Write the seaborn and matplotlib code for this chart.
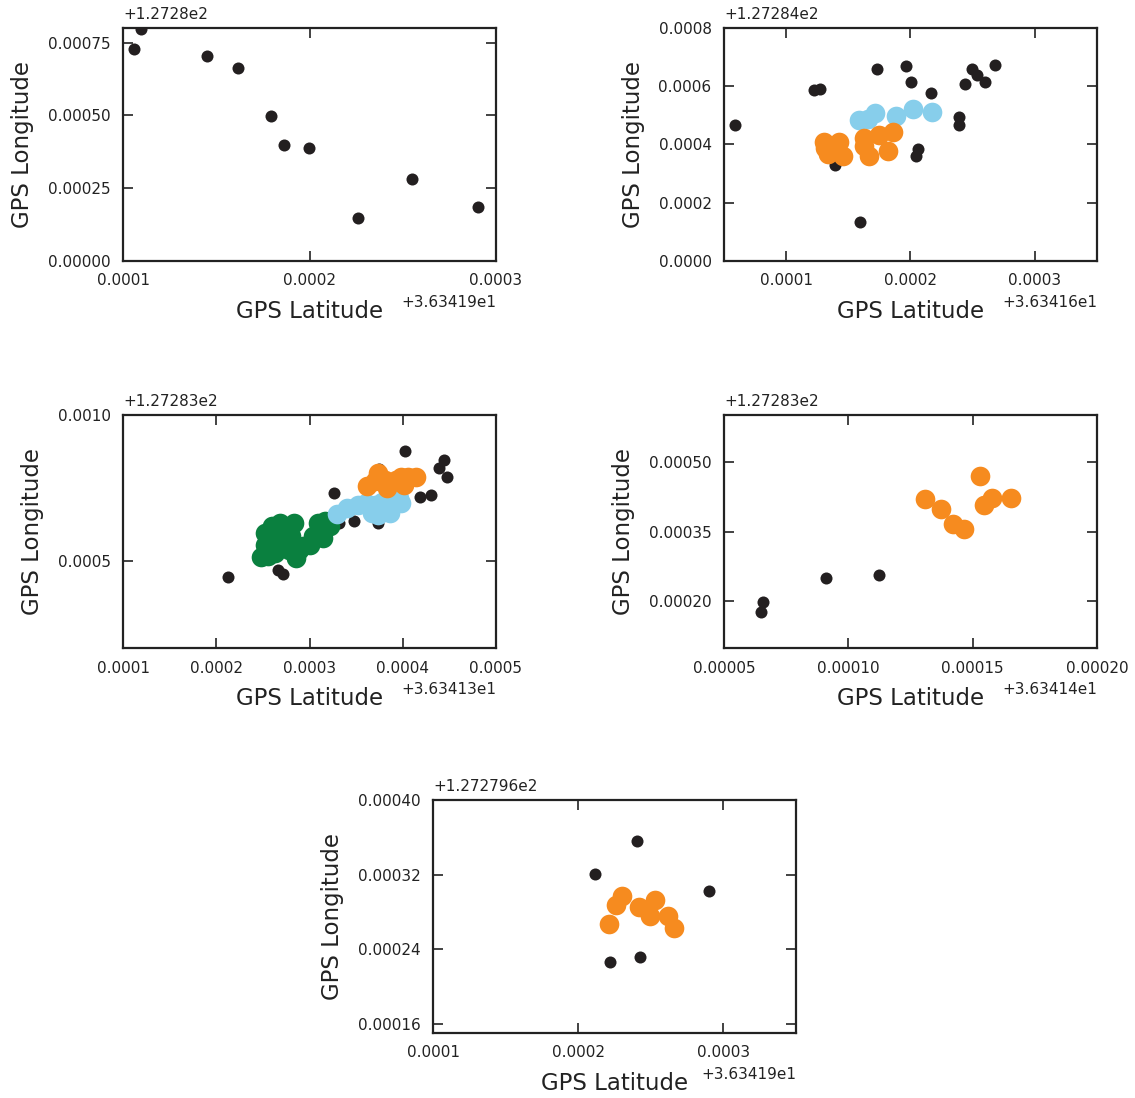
import numpy as np
import pandas as pd
import seaborn as sns
import matplotlib
matplotlib.use("Agg")
import matplotlib.pyplot as plt
from matplotlib.ticker import ScalarFormatter

# cores usadas nos clusters
preto = "#231f20"
laranja = "#f68b1f"
azul = "#87ceeb"
verde = "#0a803f"

# offsets (latitude, longitude) de cada painel
off_lat = [36.3419, 36.3416, 36.3413, 36.3414, 36.3419]
off_lon = [127.28, 127.284, 127.283, 127.283, 127.2796]

# painel 1 - so ruido
p1_ruido_lat = [0.0001094, 0.0001061, 0.0001448, 0.0001614, 0.0001793, 0.0001863, 0.0001999, 0.0002259, 0.0002548, 0.0002902]
p1_ruido_lon = [0.000795, 0.000728, 0.000703, 0.000663, 0.000497, 0.000399, 0.000387, 0.000147, 0.000283, 0.000186]

# painel 2
p2_ruido_lat = [0.0000585, 0.0001225, 0.0001272, 0.0001728, 0.0001964, 0.0002005, 0.0002165, 0.0002393, 0.0002393,
                0.0002440, 0.0002495, 0.0002536, 0.0002596, 0.0002679, 0.0001396, 0.0001593, 0.0002060, 0.0002041]
p2_ruido_lon = [0.000466, 0.000586, 0.000590, 0.000659, 0.000671, 0.000616, 0.000578, 0.000495, 0.000468,
                0.000609, 0.000660, 0.000640, 0.000613, 0.000674, 0.000329, 0.000134, 0.000386, 0.000362]
p2_azul_lat = [0.0001582, 0.0001662, 0.0001714, 0.0001885, 0.0002019, 0.0002173]
p2_azul_lon = [0.000484, 0.000489, 0.000509, 0.000498, 0.000523, 0.000511]
p2_laranja_lat = [0.0001305, 0.0001423, 0.0001313, 0.0001335, 0.0001456, 0.0001624, 0.0001629, 0.0001670, 0.0001747, 0.0001857, 0.0001821]
p2_laranja_lon = [0.000408, 0.000408, 0.000389, 0.000369, 0.000360, 0.000423, 0.000394, 0.000360, 0.000434, 0.000444, 0.000377]

# painel 3
p3_ruido_lat = [0.0002124, 0.0002663, 0.0002714, 0.0003267, 0.0003315, 0.0003481, 0.0003739, 0.0003750, 0.0004027,
                0.0004189, 0.0004300, 0.0004384, 0.0004447, 0.0004476]
p3_ruido_lon = [0.000443, 0.000469, 0.000455, 0.000733, 0.000631, 0.000637, 0.000629, 0.000816, 0.000876,
                0.000720, 0.000726, 0.000817, 0.000846, 0.000787]
p3_verde_lat = [0.0002478, 0.0002523, 0.0002578, 0.0002596, 0.0002688, 0.0002744, 0.0002836, 0.0002799, 0.0002854,
                0.0002928, 0.0003002, 0.0003039, 0.0003094, 0.0003149, 0.0003223, 0.0002633, 0.0002781, 0.0002559,
                0.0002891, 0.0002633, 0.0002523, 0.0003168]
p3_verde_lon = [0.000513, 0.000555, 0.000583, 0.000618, 0.000629, 0.000595, 0.000629, 0.000583, 0.000509,
                0.000549, 0.000555, 0.000583, 0.000629, 0.000578, 0.000618, 0.000526, 0.000538, 0.000515,
                0.000538, 0.000566, 0.000595, 0.000635]
p3_azul_lat = [0.0003297, 0.0003407, 0.0003518, 0.0003610, 0.0003665, 0.0003702, 0.0003776, 0.0003813, 0.0003887,
               0.0003960, 0.0003979, 0.0003868, 0.0003739]
p3_azul_lon = [0.000661, 0.000680, 0.000692, 0.000697, 0.000663, 0.000692, 0.000703, 0.000675, 0.000692,
               0.000715, 0.000697, 0.000663, 0.000658]
p3_laranja_lat = [0.0003621, 0.0003702, 0.0003739, 0.0003813, 0.0003831, 0.0003924, 0.0003979, 0.0004053, 0.0004145, 0.0004016]
p3_laranja_lon = [0.000755, 0.000772, 0.000800, 0.000777, 0.000749, 0.000777, 0.000787, 0.000787, 0.000787, 0.000760]

# painel 4
p4_ruido_lat = [0.0000647, 0.0000656, 0.0000909, 0.0001122]
p4_ruido_lon = [0.0001764, 0.0001979, 0.0002500, 0.0002557]
p4_laranja_lat = [0.0001309, 0.0001374, 0.0001422, 0.0001467, 0.0001529, 0.0001546, 0.0001578, 0.0001656]
p4_laranja_lon = [0.0004207, 0.0003979, 0.0003657, 0.0003550, 0.0004693, 0.0004071, 0.0004214, 0.0004229]

# painel 5
p5_ruido_lat = [0.0002406, 0.0002115, 0.0002904, 0.0002222, 0.0002424]
p5_ruido_lon = [0.0003562, 0.0003211, 0.0003024, 0.0002260, 0.0002318]
p5_laranja_lat = [0.0002300, 0.0002261, 0.0002211, 0.0002422, 0.0002495, 0.0002532, 0.0002622, 0.0002658]
p5_laranja_lon = [0.0002967, 0.0002877, 0.0002673, 0.0002852, 0.0002752, 0.0002924, 0.0002752, 0.0002626]

# limites e ticks (relativos ao offset)
xlims = [(0.0001, 0.0003), (0.00005, 0.00035), (0.0001, 0.0005), (0.00005, 0.0002), (0.0001, 0.00035)]
ylims = [(0.0, 0.0008), (0.0, 0.0008), (0.0002, 0.001), (0.0001, 0.0006), (0.00015, 0.0004)]
xticks = [[0.0001, 0.0002, 0.0003], [0.0001, 0.0002, 0.0003], [0.0001, 0.0002, 0.0003, 0.0004, 0.0005],
          [0.00005, 0.0001, 0.00015, 0.0002], [0.0001, 0.0002, 0.0003]]
yticks = [[0.0, 0.00025, 0.0005, 0.00075], [0.0, 0.0002, 0.0004, 0.0006, 0.0008], [0.0005, 0.001],
          [0.0002, 0.00035, 0.0005], [0.00016, 0.00024, 0.00032, 0.0004]]

paineis = [
    [(p1_ruido_lat, p1_ruido_lon, preto, 75)],
    [(p2_ruido_lat, p2_ruido_lon, preto, 75), (p2_azul_lat, p2_azul_lon, azul, 200),
     (p2_laranja_lat, p2_laranja_lon, laranja, 200)],
    [(p3_ruido_lat, p3_ruido_lon, preto, 75), (p3_verde_lat, p3_verde_lon, verde, 200),
     (p3_azul_lat, p3_azul_lon, azul, 200), (p3_laranja_lat, p3_laranja_lon, laranja, 200)],
    [(p4_ruido_lat, p4_ruido_lon, preto, 75), (p4_laranja_lat, p4_laranja_lon, laranja, 200)],
    [(p5_ruido_lat, p5_ruido_lon, preto, 75), (p5_laranja_lat, p5_laranja_lon, laranja, 200)],
]

posicoes = [
    [0.1084, 0.7623, 0.3286, 0.2122],
    [0.6379, 0.7623, 0.3286, 0.2122],
    [0.1084, 0.4098, 0.3286, 0.2122],
    [0.6379, 0.4098, 0.3286, 0.2122],
    [0.3815, 0.0592, 0.3198, 0.2122],
]

sns.set_style("ticks")
plt.rcParams["font.family"] = ["DejaVu Sans"]
plt.rcParams["text.color"] = "#222222"
plt.rcParams["axes.labelcolor"] = "#222222"

fig = plt.figure(figsize=(11.35, 10.98), dpi=100)
eixos = []

for i in range(5):
    ax = fig.add_axes(posicoes[i])
    for lat, lon, cor, tam in paineis[i]:
        df = pd.DataFrame({"lat": np.array(lat) + off_lat[i], "lon": np.array(lon) + off_lon[i]})
        sns.scatterplot(data=df, x="lat", y="lon", color=cor, s=tam, linewidth=0, ax=ax, zorder=3)

    ax.set_xlim(off_lat[i] + xlims[i][0], off_lat[i] + xlims[i][1])
    ax.set_ylim(off_lon[i] + ylims[i][0], off_lon[i] + ylims[i][1])
    ax.set_xticks([off_lat[i] + t for t in xticks[i]])
    ax.set_yticks([off_lon[i] + t for t in yticks[i]])
    ax.xaxis.set_major_formatter(ScalarFormatter(useOffset=off_lat[i]))
    ax.yaxis.set_major_formatter(ScalarFormatter(useOffset=off_lon[i]))

    ax.tick_params(direction="in", top=True, right=True, length=7, width=1.2,
                   labelsize=11, colors="#222222", pad=9)
    for sp in ax.spines.values():
        sp.set_linewidth(1.6)
        sp.set_color("#222222")

    ax.set_xlabel("GPS Latitude", fontsize=16.5, labelpad=8)
    ax.set_ylabel("GPS Longitude", fontsize=16.5, labelpad=10)
    eixos.append(ax)

# texto do offset desenhado a mao para ficar na mesma altura do original
fig.canvas.draw()
for ax in eixos:
    tx = ax.xaxis.get_offset_text().get_text()
    ty = ax.yaxis.get_offset_text().get_text()
    ax.xaxis.get_offset_text().set_visible(False)
    ax.yaxis.get_offset_text().set_visible(False)
    ax.text(1.0, -0.18, tx, transform=ax.transAxes, ha="right", va="center", fontsize=11)
    ax.text(0.0, 1.06, ty, transform=ax.transAxes, ha="left", va="center", fontsize=11)

fig.savefig("out.png", dpi=100)
